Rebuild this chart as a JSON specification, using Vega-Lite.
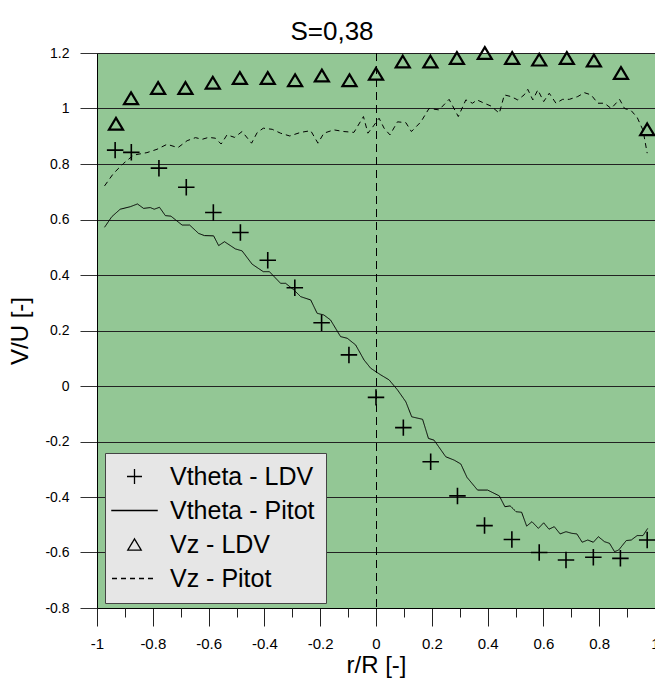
{
  "$schema": "https://vega.github.io/schema/vega-lite/v6.json",
  "autosize": {"type": "none"},
  "padding": {"left": 97, "top": 53, "right": 0, "bottom": 74},
  "width": 558,
  "height": 555,
  "background": "white",
  "title": {"text": "S=0,38", "fontSize": 26, "font": "Liberation Sans", "fontWeight": "normal", "color": "black", "anchor": "middle", "frame": "group", "baseline": "alphabetic", "offset": -23, "dx": -44},
  "config": {
    "view": {"fill": "#93c795", "stroke": null},
    "font": "Liberation Sans"
  },
  "data": {"values": [
    {"series": "Vtheta - LDV", "x": -0.935, "y": 0.850},
    {"series": "Vtheta - LDV", "x": -0.877, "y": 0.842},
    {"series": "Vtheta - LDV", "x": -0.778, "y": 0.785},
    {"series": "Vtheta - LDV", "x": -0.680, "y": 0.716},
    {"series": "Vtheta - LDV", "x": -0.583, "y": 0.625},
    {"series": "Vtheta - LDV", "x": -0.486, "y": 0.553},
    {"series": "Vtheta - LDV", "x": -0.388, "y": 0.453},
    {"series": "Vtheta - LDV", "x": -0.291, "y": 0.354},
    {"series": "Vtheta - LDV", "x": -0.195, "y": 0.228},
    {"series": "Vtheta - LDV", "x": -0.097, "y": 0.112},
    {"series": "Vtheta - LDV", "x": 0.000, "y": -0.041},
    {"series": "Vtheta - LDV", "x": 0.098, "y": -0.150},
    {"series": "Vtheta - LDV", "x": 0.196, "y": -0.273},
    {"series": "Vtheta - LDV", "x": 0.292, "y": -0.396},
    {"series": "Vtheta - LDV", "x": 0.389, "y": -0.503},
    {"series": "Vtheta - LDV", "x": 0.487, "y": -0.553},
    {"series": "Vtheta - LDV", "x": 0.585, "y": -0.600},
    {"series": "Vtheta - LDV", "x": 0.681, "y": -0.627},
    {"series": "Vtheta - LDV", "x": 0.779, "y": -0.617},
    {"series": "Vtheta - LDV", "x": 0.876, "y": -0.621},
    {"series": "Vtheta - LDV", "x": 0.972, "y": -0.555},
    {"series": "Vz - LDV", "x": -0.932, "y": 0.945},
    {"series": "Vz - LDV", "x": -0.878, "y": 1.037},
    {"series": "Vz - LDV", "x": -0.781, "y": 1.074},
    {"series": "Vz - LDV", "x": -0.683, "y": 1.074},
    {"series": "Vz - LDV", "x": -0.585, "y": 1.093},
    {"series": "Vz - LDV", "x": -0.488, "y": 1.110},
    {"series": "Vz - LDV", "x": -0.388, "y": 1.110},
    {"series": "Vz - LDV", "x": -0.290, "y": 1.102},
    {"series": "Vz - LDV", "x": -0.194, "y": 1.119},
    {"series": "Vz - LDV", "x": -0.095, "y": 1.102},
    {"series": "Vz - LDV", "x": 0.000, "y": 1.125},
    {"series": "Vz - LDV", "x": 0.096, "y": 1.169},
    {"series": "Vz - LDV", "x": 0.195, "y": 1.169},
    {"series": "Vz - LDV", "x": 0.290, "y": 1.182},
    {"series": "Vz - LDV", "x": 0.390, "y": 1.200},
    {"series": "Vz - LDV", "x": 0.488, "y": 1.182},
    {"series": "Vz - LDV", "x": 0.585, "y": 1.176},
    {"series": "Vz - LDV", "x": 0.684, "y": 1.182},
    {"series": "Vz - LDV", "x": 0.781, "y": 1.173},
    {"series": "Vz - LDV", "x": 0.878, "y": 1.128},
    {"series": "Vz - LDV", "x": 0.972, "y": 0.925},
    {"series": "Vtheta - Pitot", "x": -0.973, "y": 0.572},
    {"series": "Vtheta - Pitot", "x": -0.947, "y": 0.610},
    {"series": "Vtheta - Pitot", "x": -0.917, "y": 0.637},
    {"series": "Vtheta - Pitot", "x": -0.881, "y": 0.646},
    {"series": "Vtheta - Pitot", "x": -0.855, "y": 0.656},
    {"series": "Vtheta - Pitot", "x": -0.833, "y": 0.640},
    {"series": "Vtheta - Pitot", "x": -0.809, "y": 0.643},
    {"series": "Vtheta - Pitot", "x": -0.795, "y": 0.637},
    {"series": "Vtheta - Pitot", "x": -0.776, "y": 0.644},
    {"series": "Vtheta - Pitot", "x": -0.755, "y": 0.614},
    {"series": "Vtheta - Pitot", "x": -0.735, "y": 0.612},
    {"series": "Vtheta - Pitot", "x": -0.695, "y": 0.580},
    {"series": "Vtheta - Pitot", "x": -0.668, "y": 0.580},
    {"series": "Vtheta - Pitot", "x": -0.636, "y": 0.550},
    {"series": "Vtheta - Pitot", "x": -0.615, "y": 0.542},
    {"series": "Vtheta - Pitot", "x": -0.582, "y": 0.541},
    {"series": "Vtheta - Pitot", "x": -0.564, "y": 0.506},
    {"series": "Vtheta - Pitot", "x": -0.543, "y": 0.520},
    {"series": "Vtheta - Pitot", "x": -0.504, "y": 0.494},
    {"series": "Vtheta - Pitot", "x": -0.480, "y": 0.487},
    {"series": "Vtheta - Pitot", "x": -0.444, "y": 0.439},
    {"series": "Vtheta - Pitot", "x": -0.404, "y": 0.412},
    {"series": "Vtheta - Pitot", "x": -0.382, "y": 0.412},
    {"series": "Vtheta - Pitot", "x": -0.342, "y": 0.370},
    {"series": "Vtheta - Pitot", "x": -0.324, "y": 0.370},
    {"series": "Vtheta - Pitot", "x": -0.294, "y": 0.346},
    {"series": "Vtheta - Pitot", "x": -0.270, "y": 0.322},
    {"series": "Vtheta - Pitot", "x": -0.234, "y": 0.310},
    {"series": "Vtheta - Pitot", "x": -0.211, "y": 0.262},
    {"series": "Vtheta - Pitot", "x": -0.187, "y": 0.256},
    {"series": "Vtheta - Pitot", "x": -0.163, "y": 0.238},
    {"series": "Vtheta - Pitot", "x": -0.127, "y": 0.178},
    {"series": "Vtheta - Pitot", "x": -0.103, "y": 0.172},
    {"series": "Vtheta - Pitot", "x": -0.073, "y": 0.148},
    {"series": "Vtheta - Pitot", "x": -0.043, "y": 0.094},
    {"series": "Vtheta - Pitot", "x": -0.019, "y": 0.064},
    {"series": "Vtheta - Pitot", "x": 0.017, "y": 0.040},
    {"series": "Vtheta - Pitot", "x": 0.047, "y": 0.022},
    {"series": "Vtheta - Pitot", "x": 0.077, "y": -0.014},
    {"series": "Vtheta - Pitot", "x": 0.107, "y": -0.057},
    {"series": "Vtheta - Pitot", "x": 0.128, "y": -0.111},
    {"series": "Vtheta - Pitot", "x": 0.167, "y": -0.120},
    {"series": "Vtheta - Pitot", "x": 0.188, "y": -0.189},
    {"series": "Vtheta - Pitot", "x": 0.208, "y": -0.195},
    {"series": "Vtheta - Pitot", "x": 0.250, "y": -0.255},
    {"series": "Vtheta - Pitot", "x": 0.280, "y": -0.267},
    {"series": "Vtheta - Pitot", "x": 0.304, "y": -0.281},
    {"series": "Vtheta - Pitot", "x": 0.326, "y": -0.329},
    {"series": "Vtheta - Pitot", "x": 0.364, "y": -0.375},
    {"series": "Vtheta - Pitot", "x": 0.400, "y": -0.375},
    {"series": "Vtheta - Pitot", "x": 0.442, "y": -0.396},
    {"series": "Vtheta - Pitot", "x": 0.462, "y": -0.435},
    {"series": "Vtheta - Pitot", "x": 0.481, "y": -0.432},
    {"series": "Vtheta - Pitot", "x": 0.502, "y": -0.453},
    {"series": "Vtheta - Pitot", "x": 0.522, "y": -0.455},
    {"series": "Vtheta - Pitot", "x": 0.540, "y": -0.505},
    {"series": "Vtheta - Pitot", "x": 0.559, "y": -0.489},
    {"series": "Vtheta - Pitot", "x": 0.582, "y": -0.513},
    {"series": "Vtheta - Pitot", "x": 0.601, "y": -0.493},
    {"series": "Vtheta - Pitot", "x": 0.620, "y": -0.516},
    {"series": "Vtheta - Pitot", "x": 0.639, "y": -0.507},
    {"series": "Vtheta - Pitot", "x": 0.660, "y": -0.533},
    {"series": "Vtheta - Pitot", "x": 0.681, "y": -0.525},
    {"series": "Vtheta - Pitot", "x": 0.702, "y": -0.531},
    {"series": "Vtheta - Pitot", "x": 0.720, "y": -0.533},
    {"series": "Vtheta - Pitot", "x": 0.739, "y": -0.563},
    {"series": "Vtheta - Pitot", "x": 0.759, "y": -0.555},
    {"series": "Vtheta - Pitot", "x": 0.779, "y": -0.563},
    {"series": "Vtheta - Pitot", "x": 0.797, "y": -0.543},
    {"series": "Vtheta - Pitot", "x": 0.819, "y": -0.561},
    {"series": "Vtheta - Pitot", "x": 0.837, "y": -0.567},
    {"series": "Vtheta - Pitot", "x": 0.855, "y": -0.597},
    {"series": "Vtheta - Pitot", "x": 0.870, "y": -0.591},
    {"series": "Vtheta - Pitot", "x": 0.897, "y": -0.557},
    {"series": "Vtheta - Pitot", "x": 0.915, "y": -0.555},
    {"series": "Vtheta - Pitot", "x": 0.936, "y": -0.539},
    {"series": "Vtheta - Pitot", "x": 0.957, "y": -0.539},
    {"series": "Vtheta - Pitot", "x": 0.974, "y": -0.513},
    {"series": "Vz - Pitot", "x": -0.973, "y": 0.721},
    {"series": "Vz - Pitot", "x": -0.941, "y": 0.766},
    {"series": "Vz - Pitot", "x": -0.905, "y": 0.802},
    {"series": "Vz - Pitot", "x": -0.869, "y": 0.832},
    {"series": "Vz - Pitot", "x": -0.821, "y": 0.841},
    {"series": "Vz - Pitot", "x": -0.785, "y": 0.853},
    {"series": "Vz - Pitot", "x": -0.749, "y": 0.871},
    {"series": "Vz - Pitot", "x": -0.710, "y": 0.859},
    {"series": "Vz - Pitot", "x": -0.677, "y": 0.884},
    {"series": "Vz - Pitot", "x": -0.647, "y": 0.895},
    {"series": "Vz - Pitot", "x": -0.623, "y": 0.889},
    {"series": "Vz - Pitot", "x": -0.600, "y": 0.896},
    {"series": "Vz - Pitot", "x": -0.576, "y": 0.893},
    {"series": "Vz - Pitot", "x": -0.555, "y": 0.872},
    {"series": "Vz - Pitot", "x": -0.534, "y": 0.905},
    {"series": "Vz - Pitot", "x": -0.507, "y": 0.896},
    {"series": "Vz - Pitot", "x": -0.480, "y": 0.917},
    {"series": "Vz - Pitot", "x": -0.446, "y": 0.875},
    {"series": "Vz - Pitot", "x": -0.426, "y": 0.913},
    {"series": "Vz - Pitot", "x": -0.404, "y": 0.929},
    {"series": "Vz - Pitot", "x": -0.372, "y": 0.925},
    {"series": "Vz - Pitot", "x": -0.342, "y": 0.911},
    {"series": "Vz - Pitot", "x": -0.309, "y": 0.901},
    {"series": "Vz - Pitot", "x": -0.270, "y": 0.914},
    {"series": "Vz - Pitot", "x": -0.234, "y": 0.920},
    {"series": "Vz - Pitot", "x": -0.208, "y": 0.875},
    {"series": "Vz - Pitot", "x": -0.187, "y": 0.911},
    {"series": "Vz - Pitot", "x": -0.151, "y": 0.923},
    {"series": "Vz - Pitot", "x": -0.115, "y": 0.917},
    {"series": "Vz - Pitot", "x": -0.079, "y": 0.914},
    {"series": "Vz - Pitot", "x": -0.045, "y": 0.971},
    {"series": "Vz - Pitot", "x": -0.029, "y": 0.911},
    {"series": "Vz - Pitot", "x": -0.009, "y": 0.937},
    {"series": "Vz - Pitot", "x": 0.011, "y": 0.965},
    {"series": "Vz - Pitot", "x": 0.029, "y": 0.929},
    {"series": "Vz - Pitot", "x": 0.050, "y": 0.905},
    {"series": "Vz - Pitot", "x": 0.077, "y": 0.952},
    {"series": "Vz - Pitot", "x": 0.107, "y": 0.949},
    {"series": "Vz - Pitot", "x": 0.127, "y": 0.917},
    {"series": "Vz - Pitot", "x": 0.161, "y": 0.952},
    {"series": "Vz - Pitot", "x": 0.190, "y": 1.000},
    {"series": "Vz - Pitot", "x": 0.226, "y": 0.995},
    {"series": "Vz - Pitot", "x": 0.262, "y": 1.033},
    {"series": "Vz - Pitot", "x": 0.295, "y": 0.971},
    {"series": "Vz - Pitot", "x": 0.322, "y": 1.031},
    {"series": "Vz - Pitot", "x": 0.346, "y": 1.019},
    {"series": "Vz - Pitot", "x": 0.362, "y": 1.031},
    {"series": "Vz - Pitot", "x": 0.388, "y": 1.019},
    {"series": "Vz - Pitot", "x": 0.412, "y": 1.009},
    {"series": "Vz - Pitot", "x": 0.442, "y": 0.983},
    {"series": "Vz - Pitot", "x": 0.460, "y": 1.049},
    {"series": "Vz - Pitot", "x": 0.484, "y": 1.043},
    {"series": "Vz - Pitot", "x": 0.508, "y": 1.031},
    {"series": "Vz - Pitot", "x": 0.531, "y": 1.049},
    {"series": "Vz - Pitot", "x": 0.544, "y": 1.069},
    {"series": "Vz - Pitot", "x": 0.562, "y": 1.031},
    {"series": "Vz - Pitot", "x": 0.580, "y": 1.067},
    {"series": "Vz - Pitot", "x": 0.601, "y": 1.025},
    {"series": "Vz - Pitot", "x": 0.621, "y": 1.055},
    {"series": "Vz - Pitot", "x": 0.645, "y": 1.019},
    {"series": "Vz - Pitot", "x": 0.669, "y": 1.033},
    {"series": "Vz - Pitot", "x": 0.693, "y": 1.033},
    {"series": "Vz - Pitot", "x": 0.723, "y": 1.043},
    {"series": "Vz - Pitot", "x": 0.747, "y": 1.057},
    {"series": "Vz - Pitot", "x": 0.771, "y": 1.049},
    {"series": "Vz - Pitot", "x": 0.795, "y": 1.019},
    {"series": "Vz - Pitot", "x": 0.819, "y": 1.019},
    {"series": "Vz - Pitot", "x": 0.843, "y": 1.000},
    {"series": "Vz - Pitot", "x": 0.873, "y": 1.033},
    {"series": "Vz - Pitot", "x": 0.891, "y": 1.000},
    {"series": "Vz - Pitot", "x": 0.915, "y": 0.992},
    {"series": "Vz - Pitot", "x": 0.936, "y": 0.968},
    {"series": "Vz - Pitot", "x": 0.957, "y": 0.922},
    {"series": "Vz - Pitot", "x": 0.972, "y": 0.839}
  ]},
  "resolve": {"axis": {"x": "independent"}},
  "layer": [
    {
      "transform": [{"filter": "datum.series === 'Vtheta - Pitot' || datum.series === 'Vz - Pitot'"}],
      "mark": {"type": "line", "color": "black", "strokeWidth": 1},
      "encoding": {
        "x": {"field": "x", "type": "quantitative", "scale": {"domain": [-1, 1], "nice": false, "zero": false},
          "axis": {"orient": "bottom", "title": "r/R [-]", "values": [-1, -0.8, -0.6, -0.4, -0.2, 0, 0.2, 0.4, 0.6, 0.8, 1], "labelExpr": "'' + datum.value", "grid": false, "tickSize": 18, "tickColor": "#222", "domainColor": "black", "labelFontSize": 15, "labelColor": "black", "labelPadding": 10, "titleFontSize": 24, "titleFontWeight": "normal", "titleColor": "black", "titlePadding": 2, "labelFlush": false, "labelOverlap": false}},
        "y": {"field": "y", "type": "quantitative", "scale": {"domain": [-0.8, 1.2], "nice": false, "zero": false},
          "axis": {"title": "V/U [-]", "values": [-0.8, -0.6, -0.4, -0.2, 0, 0.2, 0.4, 0.6, 0.8, 1, 1.2], "labelExpr": "'' + datum.value", "grid": true, "gridColor": "#222", "gridOpacity": 1, "gridWidth": 1, "tickSize": 17, "tickColor": "#333", "domainColor": "black", "labelFontSize": 14, "labelColor": "black", "labelPadding": 11, "titleFontSize": 24, "titleFontWeight": "normal", "titleColor": "black", "titlePadding": 12, "labelFlush": false, "labelOverlap": false}},
        "strokeDash": {"field": "series", "type": "nominal",
          "scale": {"domain": ["Vtheta - LDV", "Vtheta - Pitot", "Vz - LDV", "Vz - Pitot"], "range": [[1, 0], [1, 0], [1, 0], [5, 4]]},
          "legend": {"title": null, "orient": "none", "legendX": 8, "legendY": 400, "fillColor": "#e6e6e6", "strokeColor": "#444", "padding": 11, "labelFontSize": 25, "labelFont": "Liberation Sans", "labelColor": "black", "labelLimit": 400, "labelOffset": 23, "symbolOffset": 6, "symbolSize": 225, "symbolStrokeColor": "black", "symbolFillColor": "transparent", "symbolStrokeWidth": 1.3, "rowPadding": 8}}
      }
    },
    {
      "transform": [{"filter": "datum.series === 'Vtheta - LDV'"}],
      "mark": {"type": "point", "filled": false, "color": "black", "strokeWidth": 1.6, "size": 272, "opacity": 1},
      "encoding": {
        "x": {"field": "x", "type": "quantitative",
          "axis": {"orient": "bottom", "title": null, "values": [-0.9, -0.7, -0.5, -0.3, -0.1, 0.1, 0.3, 0.5, 0.7, 0.9], "labels": false, "domain": false, "grid": false, "tickSize": 9, "tickColor": "#222"}},
        "y": {"field": "y", "type": "quantitative"},
        "shape": {"field": "series", "type": "nominal",
          "scale": {"domain": ["Vtheta - LDV", "Vtheta - Pitot", "Vz - LDV", "Vz - Pitot"], "range": ["M-1,0L1,0M0,-1L0,1", "M-3.1,0L3.1,0", "M0,-0.75L0.9,0.75L-0.9,0.75Z", "M-3,0L2.6,0"]},
          "legend": {"title": null, "orient": "none", "legendX": 8, "legendY": 400, "fillColor": "#e6e6e6", "strokeColor": "#444", "padding": 11, "labelFontSize": 25, "labelFont": "Liberation Sans", "labelColor": "black", "labelLimit": 400, "labelOffset": 23, "symbolOffset": 6, "symbolSize": 225, "symbolStrokeColor": "black", "symbolFillColor": "transparent", "symbolStrokeWidth": 1.3, "rowPadding": 8}}
      }
    },
    {
      "transform": [{"filter": "datum.series === 'Vz - LDV'"}],
      "mark": {"type": "point", "filled": false, "color": "black", "strokeWidth": 2.2, "size": 243, "opacity": 1},
      "encoding": {
        "x": {"field": "x", "type": "quantitative", "axis": null},
        "y": {"field": "y", "type": "quantitative"},
        "shape": {"field": "series", "type": "nominal"}
      }
    },
    {
      "mark": {"type": "rule", "color": "black", "strokeWidth": 1, "strokeDash": [8, 5], "xOffset": 0.5},
      "encoding": {"x": {"datum": 0, "type": "quantitative", "axis": null}}
    }
  ]
}
